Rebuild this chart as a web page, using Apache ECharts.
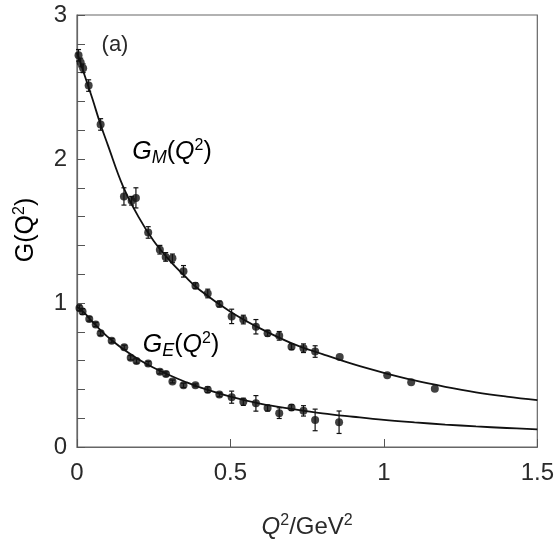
<!DOCTYPE html>
<html>
<head>
<meta charset="utf-8">
<script src="https://cdn.jsdelivr.net/npm/echarts@6/dist/echarts.min.js"></script>
<style>html,body{margin:0;padding:0;background:#fff}#c{width:557px;height:544px}</style>
</head>
<body>
<div id="c"></div>
<script>
// ---- data ----
const xTicks = [0, 0.5, 1, 1.5];
const yTicks = [0, 1, 2, 3];

const gmX = [0.005, 0.012, 0.02, 0.038, 0.077, 0.153, 0.178, 0.192, 0.232, 0.270, 0.289, 0.311, 0.347, 0.386, 0.426, 0.464, 0.504, 0.542, 0.583, 0.621, 0.659, 0.699, 0.738, 0.776, 0.856, 1.011, 1.089, 1.166];
const gmY = [2.72, 2.67, 2.63, 2.51, 2.24, 1.74, 1.71, 1.73, 1.49, 1.37, 1.32, 1.31, 1.22, 1.12, 1.066, 0.993, 0.907, 0.885, 0.835, 0.79, 0.772, 0.697, 0.686, 0.663, 0.625, 0.498, 0.45, 0.405];
const gmErr = [0.04, 0.03, 0.03, 0.04, 0.04, 0.06, 0.03, 0.07, 0.04, 0.03, 0.03, 0.03, 0.04, 0.02, 0.03, 0.02, 0.05, 0.03, 0.05, 0.02, 0.03, 0.02, 0.03, 0.04, 0, 0, 0, 0];

const geX = [0.008, 0.018, 0.04, 0.061, 0.077, 0.113, 0.154, 0.175, 0.194, 0.232, 0.270, 0.290, 0.311, 0.347, 0.386, 0.426, 0.464, 0.504, 0.542, 0.583, 0.621, 0.659, 0.699, 0.738, 0.776, 0.854];
const geY = [0.966, 0.941, 0.889, 0.851, 0.79, 0.738, 0.692, 0.62, 0.597, 0.579, 0.523, 0.507, 0.455, 0.428, 0.428, 0.398, 0.364, 0.346, 0.314, 0.303, 0.27, 0.235, 0.274, 0.251, 0.188, 0.172];
const geErr = [0.02, 0.02, 0.015, 0.015, 0.015, 0.015, 0.015, 0.015, 0.015, 0.015, 0.015, 0.015, 0.01, 0.015, 0.01, 0.02, 0.015, 0.042, 0.025, 0.054, 0.02, 0.037, 0.02, 0.036, 0.075, 0.078];

const fitX  = [0, 0.025, 0.05, 0.075, 0.1, 0.15, 0.2, 0.25, 0.3, 0.35, 0.4, 0.5, 0.6, 0.7, 0.8, 0.9, 1.0, 1.1, 1.2, 1.3, 1.4, 1.5];
const fitGM = [2.74, 2.58, 2.42, 2.25, 2.10, 1.81, 1.60, 1.43, 1.30, 1.19, 1.09, 0.94, 0.82, 0.72, 0.645, 0.575, 0.515, 0.462, 0.418, 0.38, 0.35, 0.325];
const fitGE = [0.975, 0.93, 0.87, 0.815, 0.765, 0.68, 0.61, 0.55, 0.50, 0.455, 0.415, 0.35, 0.30, 0.265, 0.234, 0.21, 0.188, 0.171, 0.156, 0.143, 0.132, 0.122];

// ---- build series data ----
const zip = (a, b) => a.map((v, i) => [v, b[i]]);
const errData = (xs, ys, es) => xs.map((x, i) => [x, ys[i] - es[i], ys[i] + es[i]]);

const FONT = '"Liberation Sans", Arial, Helvetica, sans-serif';
const TXT = '#2a2a2a';

function errorBar(params, api) {
  const x = api.value(0), lo = api.value(1), hi = api.value(2);
  if (hi - lo <= 0) return null;
  const p1 = api.coord([x, lo]);
  const p2 = api.coord([x, hi]);
  const w = 2.5;
  const st = { stroke: '#111', lineWidth: 1.2 };
  return {
    type: 'group',
    children: [
      { type: 'line', shape: { x1: p1[0], y1: p1[1], x2: p2[0], y2: p2[1] }, style: st },
      { type: 'line', shape: { x1: p1[0] - w, y1: p1[1], x2: p1[0] + w, y2: p1[1] }, style: st },
      { type: 'line', shape: { x1: p2[0] - w, y1: p2[1], x2: p2[0] + w, y2: p2[1] }, style: st }
    ]
  };
}

const chart = echarts.init(document.getElementById('c'), null, { renderer: 'canvas' });

function rich(sz) {
  return {
    i: { fontStyle: 'italic', fontSize: sz, fontFamily: FONT, color: TXT },
    n: { fontSize: sz, fontFamily: FONT, color: TXT },
    sub: { fontStyle: 'italic', fontSize: Math.round(sz * 0.72), fontFamily: FONT, color: TXT, padding: [12, 0, 0, 0] },
    sup: { fontSize: Math.round(sz * 0.65), fontFamily: FONT, color: TXT, padding: [0, 0, 12, 0] }
  };
}

chart.setOption({
  animation: false,
  backgroundColor: '#fff',
  grid: { left: 77, right: 18, top: 15, bottom: 87, show: true, borderColor: '#666', borderWidth: 1.2, backgroundColor: 'transparent' },
  xAxis: {
    type: 'value', min: 0, max: 1.5, interval: 0.5,
    axisLine: { show: true, lineStyle: { color: '#666', width: 1.2 } },
    axisTick: { show: true, inside: true, length: 8, lineStyle: { color: '#555' } },
    splitLine: { show: false },
    axisLabel: {
      margin: 14, fontSize: 24, fontFamily: FONT, color: TXT,
      formatter: v => { const t = xTicks.find(k => Math.abs(k - v) < 1e-6); return t === undefined ? '' : String(t); }
    },
    name: '{i|Q}{sup|2}{n|/GeV}{sup|2}',
    nameLocation: 'middle', nameGap: 66,
    nameTextStyle: { rich: rich(24) }
  },
  yAxis: {
    type: 'value', min: 0, max: 3, interval: 0.2,
    axisLine: { show: true, lineStyle: { color: '#666', width: 1.2 } },
    axisTick: { show: true, inside: true, length: 8, lineStyle: { color: '#555' } },
    splitLine: { show: false },
    axisLabel: {
      margin: 10, fontSize: 24, fontFamily: FONT, color: TXT, padding: [5, 0, 0, 0],
      formatter: v => { const t = yTicks.find(k => Math.abs(k - v) < 1e-6); return t === undefined ? '' : String(t); }
    }
  },
  graphic: [
    { type: 'text', x: 26, y: 230, rotation: Math.PI / 2, style: { text: '{n|G(Q}{sup|2}{n|)}', rich: rich(25), align: 'center', verticalAlign: 'middle' } },
    { type: 'text', x: 115, y: 45, style: { text: '(a)', font: '22px ' + FONT, fill: TXT, align: 'center', verticalAlign: 'middle' } },
    { type: 'text', x: 172, y: 152, style: { text: '{i|G}{sub|M}{n|(}{i|Q}{sup|2}{n|)}', rich: rich(25), align: 'center', verticalAlign: 'middle' } },
    { type: 'text', x: 181, y: 345, style: { text: '{i|G}{sub|E}{n|(}{i|Q}{sup|2}{n|)}', rich: rich(25), align: 'center', verticalAlign: 'middle' } }
  ],
  series: [
    { type: 'line', data: zip(fitX, fitGM), smooth: 0.4, showSymbol: false, lineStyle: { color: '#111', width: 1.8 }, z: 2 },
    { type: 'line', data: zip(fitX, fitGE), smooth: 0.4, showSymbol: false, lineStyle: { color: '#111', width: 1.8 }, z: 2 },
    { type: 'custom', data: errData(gmX, gmY, gmErr), renderItem: errorBar, encode: { x: 0, y: [1, 2] }, z: 3 },
    { type: 'custom', data: errData(geX, geY, geErr), renderItem: errorBar, encode: { x: 0, y: [1, 2] }, z: 3 },
    { type: 'scatter', data: zip(gmX, gmY), symbol: 'circle', symbolSize: 8, itemStyle: { color: '#111' }, z: 4 },
    { type: 'scatter', data: zip(geX, geY), symbol: 'circle', symbolSize: 8, itemStyle: { color: '#111' }, z: 4 }
  ]
});
</script>
</body>
</html>
